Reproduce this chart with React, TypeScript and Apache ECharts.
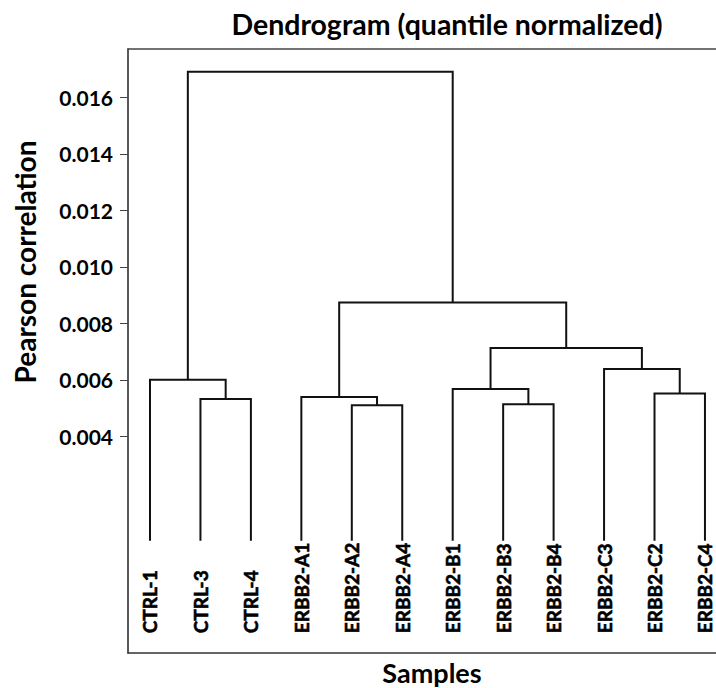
import React, { useEffect, useRef } from "react";
import * as echarts from "echarts";

// ---- data ----
const leaves = [
  "CTRL-1", "CTRL-3", "CTRL-4",
  "ERBB2-A1", "ERBB2-A2", "ERBB2-A4",
  "ERBB2-B1", "ERBB2-B3", "ERBB2-B4",
  "ERBB2-C3", "ERBB2-C2", "ERBB2-C4",
];
// merges create nodes 12, 13, ... (children refer to leaf index or earlier merge node)
const mergeLeft = [1, 0, 4, 3, 7, 6, 10, 9, 17, 15, 13];
const mergeRight = [2, 12, 5, 14, 8, 16, 11, 18, 19, 20, 21];
const mergeHeight = [0.00532, 0.006, 0.0051, 0.00539, 0.00513, 0.00567, 0.00551, 0.00638, 0.00713, 0.00874, 0.01691];
const leafHeight = 0.0003;
const yTickValues = [0.004, 0.006, 0.008, 0.01, 0.012, 0.014, 0.016];

const FONT = "Lato";

export default function App() {
  const ref = useRef<HTMLDivElement>(null);
  useEffect(() => {
    if (!ref.current) return;
    const chart = echarts.init(ref.current, undefined, { renderer: "svg" });

    const nx: number[] = leaves.map((_, i) => i);
    const ny: number[] = leaves.map(() => leafHeight);
    const series: any[] = [];
    mergeLeft.forEach((l, k) => {
      const r = mergeRight[k];
      const h = mergeHeight[k];
      series.push({
        type: "line",
        data: [
          [nx[l], ny[l]],
          [nx[l], h],
          [nx[r], h],
          [nx[r], ny[r]],
        ],
        showSymbol: false,
        symbol: "none",
        silent: true,
        lineStyle: { color: "#111", width: 2, join: "miter", cap: "butt" },
      });
      nx.push((nx[l] + nx[r]) / 2);
      ny.push(h);
    });

    const labelBase = -0.00298;
    const xMin = -0.436;
    const xMax = 11.417;

    const baseGraphics: any[] = [
      {
        type: "text",
        x: 447,
        y: 24,
        style: {
          text: "Dendrogram (quantile normalized)",
          fontFamily: FONT,
          fontWeight: "bold",
          fontSize: 28.5,
          fill: "#000",
          textAlign: "center",
          textVerticalAlign: "middle",
        },
      },
      {
        type: "text",
        x: 432,
        y: 672,
        style: {
          text: "Samples",
          fontFamily: FONT,
          fontWeight: "bold",
          fontSize: 27,
          fill: "#000",
          textAlign: "center",
          textVerticalAlign: "middle",
        },
      },
      {
        type: "text",
        x: 25,
        y: 262,
        rotation: Math.PI / 2,
        style: {
          text: "Pearson correlation",
          fontFamily: FONT,
          fontWeight: "bold",
          fontSize: 28,
          fill: "#000",
          textAlign: "center",
          textVerticalAlign: "middle",
        },
      },
    ];

    chart.setOption({
      animation: false,
      grid: { left: 128, right: -10, top: 49, bottom: 35, outerBoundsMode: "none", containLabel: false },
      graphic: baseGraphics,
      xAxis: [
        {
          type: "value",
          min: xMin,
          max: xMax,
          axisLine: { show: true, onZero: false, lineStyle: { color: "#333", width: 1.5 } },
          axisTick: { show: false },
          axisLabel: { show: false },
          splitLine: { show: false },
        },
        {
          type: "value",
          position: "top",
          min: xMin,
          max: xMax,
          axisLine: { show: true, onZero: false, lineStyle: { color: "#444", width: 1.5 } },
          axisTick: { show: false },
          axisLabel: { show: false },
          splitLine: { show: false },
        },
      ],
      yAxis: {
        type: "value",
        min: -0.00368,
        max: 0.01772,
        axisLine: { show: true, onZero: false, lineStyle: { color: "#222", width: 1.5 } },
        axisTick: {
          show: true,
          customValues: yTickValues,
          length: 8,
          lineStyle: { color: "#444", width: 1 },
        },
        axisLabel: {
          show: true,
          customValues: yTickValues,
          formatter: (v: number) => v.toFixed(3),
          fontFamily: FONT,
          fontWeight: "bold",
          fontSize: 21,
          color: "#000",
          margin: 15,
        },
        splitLine: { show: false },
      },
      series,
    });

    const labelGraphics = leaves.map((name, i) => {
      const p = chart.convertToPixel({ gridIndex: 0 }, [i, labelBase]) as number[];
      return {
        type: "text",
        x: p[0],
        y: p[1],
        rotation: Math.PI / 2,
        style: {
          text: name,
          fontFamily: FONT,
          fontWeight: "bold",
          fontSize: 19,
          fill: "#000",
          stroke: "#000",
          lineWidth: 0.6,
          textAlign: "left",
          textVerticalAlign: "middle",
        },
      };
    });
    chart.setOption({ graphic: [...baseGraphics, ...labelGraphics] });

    return () => chart.dispose();
  }, []);
  return (
    <div
      ref={ref}
      style={{ position: "fixed", left: 0, top: 0, width: 716, height: 688, background: "#fff" }}
    />
  );
}
